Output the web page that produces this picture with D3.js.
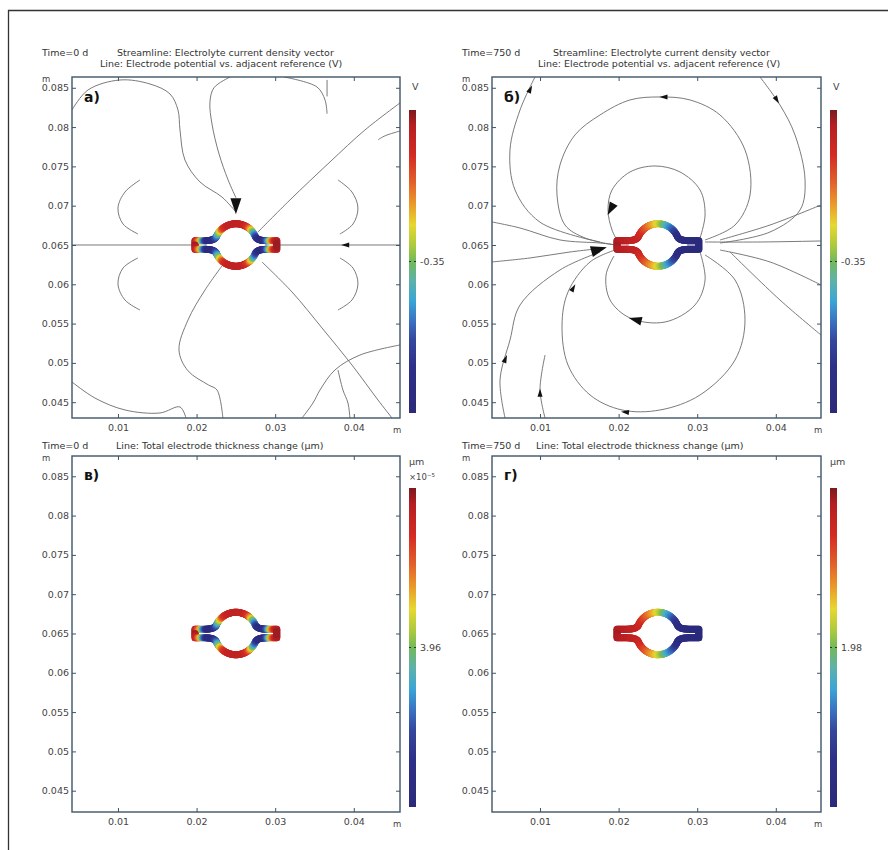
<!DOCTYPE html>
<html>
<head>
<meta charset="utf-8">
<script src="https://cdn.jsdelivr.net/npm/d3@7"></script>
<style>
  body { margin: 0; background: #fff; }
  text { font-family: "DejaVu Sans", sans-serif; }
</style>
</head>
<body>
<svg id="fig" width="888" height="850"></svg>
<script>
// ---- data ----
const xTicks = [0.01, 0.02, 0.03, 0.04];
const yTicks = [0.045, 0.05, 0.055, 0.06, 0.065, 0.07, 0.075, 0.08, 0.085];
const panelLetters = ["а)", "б)", "в)", "г)"];
const timeLabels = ["Time=0 d", "Time=750 d", "Time=0 d", "Time=750 d"];
const topTitle1 = "Streamline: Electrolyte current density vector";
const topTitle2 = "Line: Electrode potential vs. adjacent reference (V)";
const bottomTitle = "Line: Total electrode thickness change (µm)";
const cbarUnits = ["V", "V", "µm", "µm"];
const cbarScale = ["", "", "×10⁻⁵", ""];
const cbarTickLabels = ["-0.35", "-0.35", "3.96", "1.98"];

// electrode outline (m)
const ringCenter = [0.025, 0.065];
const ringRadius = 0.0027;
const neckHalfGap = 0.00055;
const tipX = [0.0198, 0.0302];
const neckEndX = [0.0210, 0.0290];
const joinAngle = 157;

// colour value (0..1 of the colour range) along the upper half, left tip -> right tip
const potStops0 = [[0, 0.98], [0.05, 0.92], [0.09, 0.7], [0.13, 0.3], [0.17, 0.06], [0.22, 0.1],
  [0.28, 0.35], [0.33, 0.62], [0.37, 0.82], [0.42, 0.9], [0.5, 0.92], [0.58, 0.9], [0.63, 0.82],
  [0.67, 0.62], [0.72, 0.35], [0.78, 0.1], [0.83, 0.06], [0.87, 0.3], [0.91, 0.7], [0.95, 0.92], [1, 0.98]];
const potStops750 = [[0, 0.97], [0.252, 0.9], [0.333, 0.84], [0.426, 0.72], [0.5, 0.62], [0.556, 0.5],
  [0.611, 0.37], [0.667, 0.27], [0.722, 0.16], [0.75, 0.12], [0.85, 0.06], [1, 0.03]];

// rainbow colour table
const rainbow = [[0.00, "#2c2a78"], [0.15, "#2e2f88"], [0.24, "#34479c"], [0.30, "#3a6fc0"],
  [0.37, "#3aa5d6"], [0.44, "#5fb2a6"], [0.50, "#72b95a"], [0.55, "#a9c93e"],
  [0.62, "#e6d82f"], [0.70, "#ea9128"], [0.76, "#e2612a"], [0.85, "#d42b23"],
  [0.95, "#b51e22"], [1.00, "#7a1a1e"]];

// streamlines, t = 0 d (m)
const streamA = [
  [[0.0040, 0.0650], [0.0198, 0.0650]],
  [[0.0460, 0.0650], [0.0302, 0.0650]],
  [[0.00415, 0.08218], [0.00618, 0.08472], [0.01025, 0.08599], [0.01407, 0.08548], [0.01662, 0.08421],
   [0.01763, 0.08218], [0.01789, 0.07963], [0.01852, 0.07581], [0.02043, 0.07302], [0.02323, 0.0711], [0.02501, 0.0692]],
  [[0.02425, 0.08637], [0.02221, 0.0850], [0.02170, 0.08320], [0.02196, 0.08040], [0.02285, 0.07660], [0.02400, 0.07330], [0.02501, 0.0710]],
  [[0.03112, 0.08637], [0.03532, 0.08510], [0.03634, 0.08345], [0.03660, 0.08170]],
  [[0.03660, 0.08600], [0.03660, 0.08390]],
  [[0.02781, 0.06665], [0.03188, 0.07073], [0.03697, 0.07556], [0.04142, 0.07963], [0.04588, 0.08307]],
  [[0.04588, 0.07950], [0.04400, 0.07890], [0.04310, 0.07840]],
  [[0.03799, 0.07327], [0.03977, 0.07174], [0.04053, 0.06971], [0.0399, 0.06767], [0.03824, 0.0664]],
  [[0.03824, 0.06335], [0.0399, 0.06207], [0.04053, 0.06004], [0.03977, 0.058], [0.03799, 0.05673]],
  [[0.0128, 0.07327], [0.01089, 0.07174], [0.0100, 0.06971], [0.01064, 0.06767], [0.01254, 0.0664]],
  [[0.01254, 0.06335], [0.01064, 0.06207], [0.0100, 0.06004], [0.01089, 0.058], [0.0128, 0.05673]],
  [[0.02323, 0.06233], [0.02107, 0.05927], [0.01891, 0.05546], [0.01776, 0.05164], [0.01890, 0.04900],
   [0.02150, 0.04720], [0.02260, 0.04655], [0.02336, 0.04286]],
  [[0.00415, 0.04757], [0.00707, 0.04553], [0.01089, 0.04401], [0.01534, 0.04363], [0.01789, 0.04439], [0.01865, 0.04299]],
  [[0.02832, 0.06284], [0.03214, 0.05902], [0.03596, 0.05444], [0.03977, 0.04973], [0.04308, 0.04528], [0.04486, 0.04299]],
  [[0.03341, 0.04299], [0.03481, 0.04490], [0.03570, 0.04655], [0.03760, 0.04910], [0.04079, 0.05100], [0.04588, 0.05228]],
  [[0.03952, 0.04286], [0.03926, 0.0449], [0.03862, 0.04655], [0.03799, 0.0491]]
];
const arrowsBigA = [[0.0250, 0.0714, 0.0250, 0.0689]];
const arrowsSmallA = [[0.0393, 0.0650, 0.0384, 0.0650]];

// streamlines, t = 750 d (m)
const streamB = [
  [[0.0310, 0.06564], [0.03481, 0.06754], [0.03672, 0.07136], [0.03608, 0.07709], [0.0329, 0.08154], [0.02908, 0.08345],
   [0.02527, 0.08383], [0.02145, 0.08345], [0.01763, 0.08154], [0.01445, 0.079], [0.01254, 0.07518], [0.01216, 0.07136],
   [0.01318, 0.06754], [0.01573, 0.06589], [0.01954, 0.065]],
  [[0.03036, 0.06589], [0.031, 0.06882], [0.03036, 0.072], [0.02781, 0.07429], [0.02463, 0.07505], [0.02145, 0.07429],
   [0.01916, 0.072], [0.01865, 0.06945], [0.01916, 0.06691], [0.01992, 0.06538]],
  [[0.03036, 0.06411], [0.031, 0.06055], [0.02972, 0.05737], [0.0259, 0.0552], [0.02145, 0.05571], [0.01891, 0.058],
   [0.0184, 0.06118], [0.01941, 0.0636]],
  [[0.031, 0.06373], [0.03481, 0.06055], [0.03608, 0.05546], [0.03481, 0.05037], [0.03036, 0.04592], [0.02527, 0.04401],
   [0.02043, 0.04401], [0.01636, 0.04592], [0.01356, 0.04973], [0.0128, 0.05482], [0.01356, 0.05902], [0.01636, 0.06284], [0.01954, 0.06436]],
  [[0.00389, 0.06793], [0.00746, 0.06716], [0.01254, 0.06564], [0.01763, 0.06525], [0.0198, 0.065]],
  [[0.00389, 0.06284], [0.00873, 0.06335], [0.01382, 0.06411], [0.01827, 0.06462]],
  [[0.00555, 0.04299], [0.00491, 0.04782], [0.00618, 0.05291], [0.00746, 0.05737], [0.01254, 0.06182], [0.01763, 0.06411]],
  [[0.01064, 0.04299], [0.01, 0.04655], [0.01064, 0.051]],
  [[0.00936, 0.08637], [0.00746, 0.08218], [0.00618, 0.07709], [0.00682, 0.07200], [0.01, 0.0679], [0.01763, 0.06538]],
  [[0.03799, 0.08637], [0.04053, 0.08281], [0.04244, 0.079], [0.04372, 0.07327], [0.04308, 0.06945], [0.03926, 0.06665], [0.0329, 0.06525]],
  [[0.031, 0.06538], [0.03799, 0.06538], [0.04575, 0.06551]],
  [[0.0329, 0.06564], [0.03926, 0.06754], [0.04575, 0.07009]],
  [[0.0329, 0.06436], [0.03926, 0.06284], [0.04575, 0.05991]],
  [[0.03417, 0.06411], [0.04053, 0.058], [0.04575, 0.05355]]
];
const arrowsBigB = [[0.0160, 0.0640, 0.0185, 0.0647]];
const arrowsMidB = [[0.0195, 0.0705, 0.0186, 0.0688], [0.0225, 0.0554, 0.0213, 0.0557]];
const arrowsSmallB = [[0.0262, 0.08383, 0.0252, 0.08383], [0.0138, 0.0588, 0.0145, 0.0600],
  [0.0085, 0.0843, 0.0090, 0.0853], [0.0398, 0.0840, 0.0404, 0.0830], [0.0053, 0.0498, 0.0058, 0.0510],
  [0.0213, 0.0437, 0.0203, 0.0438], [0.0100, 0.0455, 0.0100, 0.0467]];

// ---- layout ----
const panels = [
  {x0: 72, x1: 400, y0: 77, y1: 418, xd: [0.00415, 0.04588], yd: [0.04299, 0.08637], top: true,
   stops: potStops0, lines: streamA, big: arrowsBigA, mid: [], small: arrowsSmallA, cbar: [110, 413]},
  {x0: 492, x1: 821, y0: 77, y1: 418, xd: [0.00389, 0.04575], yd: [0.04299, 0.08637], top: true,
   stops: potStops750, lines: streamB, big: arrowsBigB, mid: arrowsMidB, small: arrowsSmallB, cbar: [110, 413]},
  {x0: 72, x1: 400, y0: 456, y1: 812, xd: [0.00415, 0.04588], yd: [0.04229, 0.08758], top: false,
   stops: potStops0, lines: [], big: [], mid: [], small: [], cbar: [488, 807]},
  {x0: 492, x1: 821, y0: 456, y1: 812, xd: [0.00389, 0.04575], yd: [0.04229, 0.08758], top: false,
   stops: potStops750, lines: [], big: [], mid: [], small: [], cbar: [488, 807]}
];

const svg = d3.select("#fig");
const colour = d3.scaleLinear().domain(rainbow.map(d => d[0])).range(rainbow.map(d => d[1])).clamp(true);

// outer frame
svg.append("path").attr("d", "M8.5,850V10.5H888").attr("fill", "none")
  .attr("stroke", "#333").attr("stroke-width", 1.3);

const defs = svg.append("defs");
const grad = defs.append("linearGradient").attr("id", "rainbow")
  .attr("x1", 0).attr("y1", 1).attr("x2", 0).attr("y2", 0);
rainbow.forEach(d => grad.append("stop").attr("offset", d[0]).attr("stop-color", d[1]));
defs.append("filter").attr("id", "soft").append("feGaussianBlur").attr("stdDeviation", 0.6);

function electrodeTop() {
  const [cx, cy] = ringCenter;
  const R = ringRadius, h = neckHalfGap;
  const a0 = joinAngle * Math.PI / 180, a1 = Math.PI - a0;
  const k = 0.0005, f = 0.0005;
  const pts = [];
  const seg = (p, q, n) => { for (let i = 1; i <= n; i++) pts.push([p[0] + (q[0] - p[0]) * i / n, p[1] + (q[1] - p[1]) * i / n]); };
  const bez = (p0, p1, p2, p3, n) => {
    for (let i = 1; i <= n; i++) {
      const t = i / n, m = 1 - t;
      pts.push([m*m*m*p0[0] + 3*m*m*t*p1[0] + 3*m*t*t*p2[0] + t*t*t*p3[0],
                m*m*m*p0[1] + 3*m*m*t*p1[1] + 3*m*t*t*p2[1] + t*t*t*p3[1]]);
    }
  };
  pts.push([tipX[0], cy]);
  seg([tipX[0], cy], [tipX[0], cy + h], 3);
  seg([tipX[0], cy + h], [neckEndX[0], cy + h], 8);
  const jL = [cx + R * Math.cos(a0), cy + R * Math.sin(a0)];
  bez([neckEndX[0], cy + h], [neckEndX[0] + f, cy + h],
      [jL[0] - k * Math.sin(a0), jL[1] + k * Math.cos(a0)], jL, 14);
  for (let i = 1; i <= 60; i++) {
    const a = a0 + (a1 - a0) * i / 60;
    pts.push([cx + R * Math.cos(a), cy + R * Math.sin(a)]);
  }
  const jR = [cx + R * Math.cos(a1), cy + R * Math.sin(a1)];
  bez(jR, [jR[0] + k * Math.sin(a1), jR[1] - k * Math.cos(a1)],
      [neckEndX[1] - f, cy + h], [neckEndX[1], cy + h], 14);
  seg([neckEndX[1], cy + h], [tipX[1], cy + h], 8);
  seg([tipX[1], cy + h], [tipX[1], cy], 3);
  return pts;
}
const topHalf = electrodeTop();

panels.forEach((p, i) => {
  const xs = d3.scaleLinear().domain(p.xd).range([p.x0, p.x1]);
  const ys = d3.scaleLinear().domain(p.yd).range([p.y1, p.y0]);
  const g = svg.append("g");
  const clipId = "clip" + i;
  defs.append("clipPath").attr("id", clipId).append("rect")
    .attr("x", p.x0).attr("y", p.y0).attr("width", p.x1 - p.x0).attr("height", p.y1 - p.y0);

  // titles
  const ty = p.top ? p.y0 - 21 : p.y0 - 7;
  g.append("text").attr("x", p.x0 - 30).attr("y", ty).attr("font-size", 9.5).attr("fill", "#333").text(timeLabels[i]);
  if (p.top) {
    g.append("text").attr("x", p.x0 + (i === 0 ? 45 : 61)).attr("y", ty).attr("font-size", 9.5).attr("fill", "#333").text(topTitle1);
    g.append("text").attr("x", p.x0 + (i === 0 ? 28 : 46)).attr("y", ty + 11).attr("font-size", 9.5).attr("fill", "#333").text(topTitle2);
  } else {
    g.append("text").attr("x", p.x0 + 44).attr("y", ty).attr("font-size", 9.5).attr("fill", "#333").text(bottomTitle);
  }

  // streamlines
  const sl = g.append("g").attr("clip-path", `url(#${clipId})`);
  const line = d3.line().x(d => xs(d[0])).y(d => ys(d[1])).curve(d3.curveCatmullRom.alpha(0.5));
  sl.selectAll("path.s").data(p.lines).join("path").attr("class", "s")
    .attr("d", line).attr("fill", "none").attr("stroke", "#6b6b6b").attr("stroke-width", 0.9);

  const drawArrows = (list, len, wid) => {
    list.forEach(a => {
      const x1 = xs(a[0]), y1 = ys(a[1]), x2 = xs(a[2]), y2 = ys(a[3]);
      const d = Math.hypot(x2 - x1, y2 - y1) || 1;
      const ux = (x2 - x1) / d, uy = (y2 - y1) / d;
      const bx = x2 - ux * len, by = y2 - uy * len;
      sl.append("path").attr("d", `M${x2},${y2}L${bx - uy * wid},${by + ux * wid}L${bx + uy * wid},${by - ux * wid}Z`)
        .attr("fill", "#111");
    });
  };
  drawArrows(p.big, 16, 5.5);
  drawArrows(p.mid, 13, 4.5);
  drawArrows(p.small, 8, 2.5);

  // electrode coloured line
  const vs = d3.scaleLinear().domain(p.stops.map(d => d[0])).range(p.stops.map(d => d[1]));
  const halves = [topHalf, topHalf.map(d => [d[0], 2 * ringCenter[1] - d[1]])];
  const el = g.append("g").attr("filter", "url(#soft)");
  halves.forEach(pts => {
    const L = [0];
    for (let j = 1; j < pts.length; j++) L.push(L[j - 1] + Math.hypot(pts[j][0] - pts[j - 1][0], pts[j][1] - pts[j - 1][1]));
    const tot = L[L.length - 1];
    const segs = d3.range(pts.length - 1).map(j => ({a: pts[j], b: pts[j + 1], u: (L[j] + L[j + 1]) / 2 / tot}));
    el.selectAll(null).data(segs).join("line")
      .attr("x1", d => xs(d.a[0])).attr("y1", d => ys(d.a[1]))
      .attr("x2", d => xs(d.b[0])).attr("y2", d => ys(d.b[1]))
      .attr("stroke", d => colour(vs(d.u))).attr("stroke-width", 7).attr("stroke-linecap", "round");
  });

  // frame and ticks
  g.append("rect").attr("x", p.x0).attr("y", p.y0).attr("width", p.x1 - p.x0).attr("height", p.y1 - p.y0)
    .attr("fill", "none").attr("stroke", "#3f5567").attr("stroke-width", 1.4);
  const fmt = d => String(+d.toFixed(3));
  g.append("g").attr("transform", `translate(0,${p.y1})`)
    .call(d3.axisBottom(xs).tickValues(xTicks).tickSize(-4).tickPadding(6).tickFormat(fmt))
    .call(a => a.select(".domain").remove());
  g.append("g").attr("transform", `translate(0,${p.y0})`)
    .call(d3.axisTop(xs).tickValues(xTicks).tickSize(-4).tickFormat(""))
    .call(a => a.select(".domain").remove());
  g.append("g").attr("transform", `translate(${p.x0},0)`)
    .call(d3.axisLeft(ys).tickValues(yTicks).tickSize(-4).tickPadding(3).tickFormat(fmt))
    .call(a => a.select(".domain").remove());
  g.append("g").attr("transform", `translate(${p.x1},0)`)
    .call(d3.axisRight(ys).tickValues(yTicks).tickSize(-4).tickFormat(""))
    .call(a => a.select(".domain").remove());
  g.selectAll(".tick line").attr("stroke", "#3f5567");
  g.selectAll(".tick text").attr("fill", "#444").attr("font-size", 9.5).attr("font-family", "DejaVu Sans, sans-serif");
  g.append("text").attr("x", p.x0 - 30).attr("y", p.y0 + 5).attr("font-size", 8.5).attr("fill", "#444").text("m");
  g.append("text").attr("x", p.x1 - 7).attr("y", p.y1 + 15).attr("font-size", 8.5).attr("fill", "#444").text("m");

  // panel letter
  g.append("text").attr("x", p.x0 + 12).attr("y", p.y0 + (p.top ? 25 : 24)).attr("font-size", 14)
    .attr("font-weight", "bold").attr("fill", "#111").text(panelLetters[i]);

  // colour bar
  const cx0 = p.x1 + 9, cw = 7;
  g.append("rect").attr("x", cx0).attr("y", p.cbar[0]).attr("width", cw).attr("height", p.cbar[1] - p.cbar[0])
    .attr("fill", "url(#rainbow)");
  const cm = (p.cbar[0] + p.cbar[1]) / 2;
  g.append("line").attr("x1", cx0).attr("x2", cx0 + 2).attr("y1", cm).attr("y2", cm).attr("stroke", "#333");
  g.append("line").attr("x1", cx0 + cw - 2).attr("x2", cx0 + cw).attr("y1", cm).attr("y2", cm).attr("stroke", "#333");
  g.append("text").attr("x", cx0 + cw + 4).attr("y", cm + 3.5).attr("font-size", 9.5).attr("fill", "#444").text(cbarTickLabels[i]);
  g.append("text").attr("x", cx0 + (p.top ? 3 : 0)).attr("y", p.y0 + (p.top ? 13 : 9)).attr("font-size", 9.5).attr("fill", "#444").text(cbarUnits[i]);
  if (cbarScale[i]) g.append("text").attr("x", cx0).attr("y", p.y0 + 24).attr("font-size", 8.5).attr("fill", "#444").text(cbarScale[i]);
});
</script>
</body>
</html>
